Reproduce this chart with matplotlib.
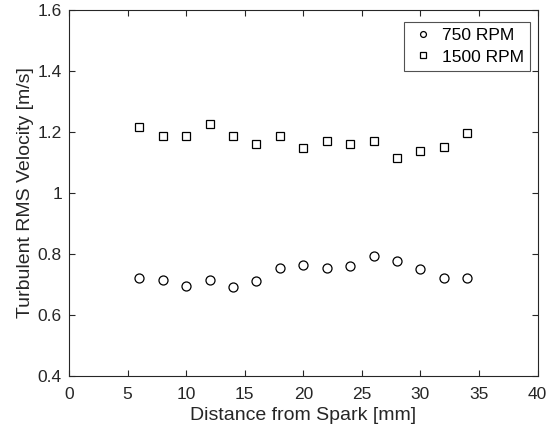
import numpy as np
import matplotlib.pyplot as plt

plt.rcParams['font.family'] = ['Liberation Sans', 'DejaVu Sans']

# --- dados ---
distancia = [6, 8, 10, 12, 14, 16, 18, 20, 22, 24, 26, 28, 30, 32, 34]
rms_750 = [0.720, 0.716, 0.695, 0.714, 0.692, 0.710, 0.755, 0.763, 0.755,
           0.761, 0.792, 0.778, 0.751, 0.720, 0.720]
rms_1500 = [1.217, 1.188, 1.188, 1.227, 1.186, 1.159, 1.186, 1.149, 1.170,
            1.159, 1.171, 1.114, 1.138, 1.151, 1.198]

x_ticks = [0, 5, 10, 15, 20, 25, 30, 35, 40]
y_ticks = [0.4, 0.6, 0.8, 1.0, 1.2, 1.4, 1.6]
y_labels = ['0.4', '0.6', '0.8', '1', '1.2', '1.4', '1.6']

cor_eixo = '#262626'

fig = plt.figure(figsize=(5.56, 4.36), dpi=100)
ax = fig.add_axes([0.124, 0.138, 0.843, 0.839])

ax.plot(distancia, rms_750, linestyle='none', marker='o', markersize=6.5,
        markerfacecolor='none', markeredgecolor='black', markeredgewidth=0.9,
        label='750 RPM')
ax.plot(distancia, rms_1500, linestyle='none', marker='s', markersize=5.8,
        markerfacecolor='none', markeredgecolor='black', markeredgewidth=0.9,
        label='1500 RPM')

ax.set_xlim(0, 40)
ax.set_ylim(0.4, 1.6)
ax.set_xticks(x_ticks)
ax.set_yticks(y_ticks)
ax.set_yticklabels(y_labels)

for s in ax.spines.values():
    s.set_color(cor_eixo)
    s.set_linewidth(0.8)
ax.tick_params(direction='in', length=4, width=0.8, colors=cor_eixo,
               labelsize=12.5, top=True, right=True)
ax.tick_params(axis='x', pad=8)
ax.tick_params(axis='y', pad=5)

ax.set_xlabel('Distance from Spark [mm]', fontsize=14, color=cor_eixo, labelpad=4)
ax.set_ylabel('Turbulent RMS Velocity [m/s]', fontsize=14, color=cor_eixo, labelpad=3)

leg = ax.legend(loc='upper right', fontsize=12.5, frameon=True, fancybox=False,
                edgecolor=cor_eixo, borderpad=0.35, handletextpad=0.4,
                handlelength=1.4, labelspacing=0.35, borderaxespad=0,
                markerscale=0.65, bbox_to_anchor=(0.983, 0.967))
leg.get_frame().set_linewidth(0.8)

fig.savefig('out.png', dpi=100)
